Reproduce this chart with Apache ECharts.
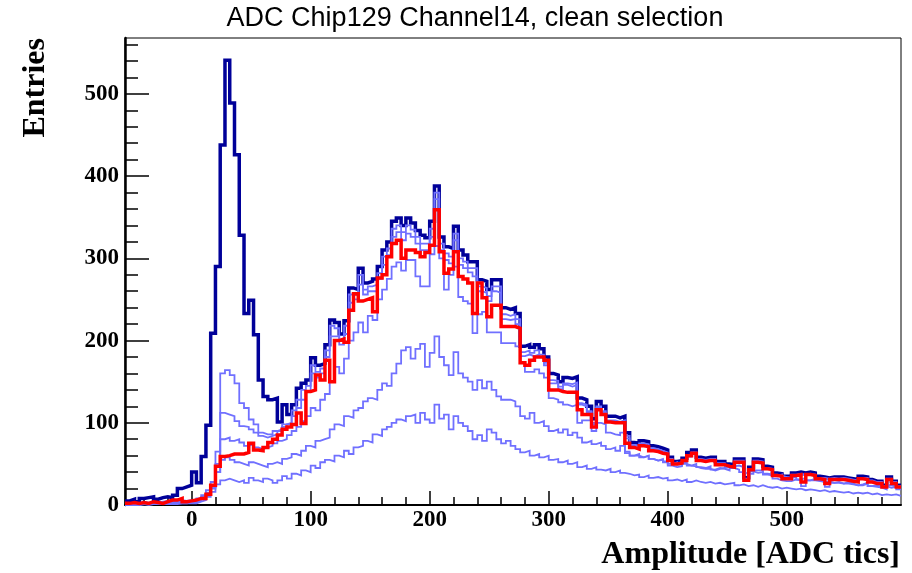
<!DOCTYPE html>
<html><head><meta charset="utf-8">
<script src="https://cdn.jsdelivr.net/npm/echarts@6/dist/echarts.min.js"></script>
<style>html,body{margin:0;padding:0;background:#fff}#c{width:912px;height:573px}</style>
</head><body><div id="c"></div>
<script>
// ---- data (bins of width 4 ADC tics starting at -56) ----
const binLow = -56;
const binWidth = 4;
const total = [
5,7,4,8,9,10,7,9,10,9,
12,20,22,24,40,27,59,97,209,290,
438,541,489,426,328,233,249,207,152,132,
128,130,101,122,110,122,142,148,152,179,
170,172,195,225,222,208,224,264,262,288,
270,272,275,290,310,320,345,349,340,349,
343,334,328,325,345,388,326,314,312,339,
310,304,296,296,274,272,262,274,274,240,
238,240,233,193,195,192,195,190,180,160,
158,150,155,154,156,130,128,120,105,126,
120,108,108,106,108,88,76,75,78,77,
72,71,69,67,58,53,54,57,64,67,
58,57,58,58,53,53,50,49,56,56,
33,46,56,55,47,46,39,38,35,35,
39,40,39,40,39,35,34,33,34,34,
34,33,32,31,35,34,31,29,29,24,
34,29,24];
const sel1 = [
2,3,2,4,3,4,3,4,5,4,
5,6,5,6,5,8,12,18,28,65,
160,164,158,148,124,118,104,98,88,86,
86,90,92,98,100,115,128,140,145,170,
162,166,188,218,215,200,218,256,255,280,
262,266,268,282,302,312,336,340,332,340,
335,326,318,318,336,380,318,306,302,330,
300,296,288,288,266,264,254,266,266,232,
230,232,226,186,188,185,188,183,173,152,
151,144,148,147,149,124,122,114,100,120,
114,103,103,101,103,84,73,72,75,74,
69,68,66,64,56,51,52,55,61,64,
56,55,56,56,51,51,48,47,54,54,
32,44,54,53,45,44,37,36,34,33,
37,38,37,38,37,33,33,32,33,32,
33,32,31,30,33,33,30,28,28,23,
32,28,23];
const sel2 = [
1,2,1,3,2,3,2,3,4,3,
4,5,4,5,4,7,10,15,22,50,
112,110,108,102,96,95,92,88,84,82,
84,86,90,95,98,108,118,128,138,160,
155,160,180,205,205,195,208,246,250,268,
256,260,260,275,292,304,326,332,322,330,
326,318,310,310,326,372,310,298,294,322,
292,288,283,278,260,258,248,260,258,226,
225,226,220,181,183,181,183,180,170,148,
148,141,146,144,146,122,120,113,98,118,
112,101,101,100,101,81,71,70,73,72,
67,66,64,62,54,50,50,53,59,62,
54,53,54,53,49,49,46,46,52,52,
31,42,52,51,44,43,36,35,33,32,
36,37,36,37,36,32,32,31,32,31,
32,31,30,29,32,32,29,27,27,22,
31,27,22];
const sel3 = [
1,1,1,2,1,2,2,2,3,2,
3,3,3,4,3,5,8,12,20,40,
80,82,78,80,76,72,74,70,68,70,
72,75,78,80,85,90,95,102,108,118,
115,128,135,150,168,160,178,200,210,222,
210,230,225,250,262,275,290,295,285,298,
298,278,266,266,305,315,300,262,280,290,
253,248,245,209,232,235,210,210,210,197,
197,197,193,173,162,162,165,160,155,130,
128,125,122,120,122,100,103,103,90,100,
98,88,86,85,88,65,60,60,58,60,
56,54,55,52,48,46,47,50,48,47,
45,44,44,42,44,45,46,47,48,46,
30,38,42,42,38,37,32,30,29,29,
31,30,23,30,30,29,28,22,27,27,
26,26,25,24,24,26,23,22,21,19,
24,22,19];
const sel4 = [
0,1,0,1,1,1,1,2,1,2,
2,2,2,3,3,5,8,14,22,40,
55,58,55,52,50,48,52,50,48,46,
50,52,50,56,58,62,60,66,72,70,
78,80,82,92,98,96,108,106,115,118,
126,130,128,140,148,145,160,172,188,192,
178,190,196,168,185,205,180,170,158,186,
160,155,150,140,152,142,150,140,132,128,
128,126,120,108,105,112,100,102,96,90,
92,88,92,85,88,82,76,78,74,76,
72,68,70,66,72,63,60,62,58,60,
56,54,56,53,50,52,49,52,48,50,
46,45,47,43,45,44,42,45,43,40,
38,41,39,40,37,36,35,37,34,33,
34,31,33,30,32,30,28,29,27,28,
26,28,26,24,25,27,23,24,22,23,
21,22,20];
const sel5 = [
0,0,0,1,0,1,1,1,1,1,
1,2,2,2,2,4,6,10,16,25,
30,32,30,28,30,27,33,30,28,32,
30,27,30,35,32,38,36,42,40,48,
45,52,55,53,60,58,66,62,70,72,
78,76,86,84,92,95,100,104,102,108,
110,100,112,104,100,122,105,110,92,108,
100,96,90,80,85,78,92,88,80,75,
78,72,68,64,66,60,62,58,60,55,
56,52,54,50,52,46,48,44,46,43,
42,44,40,42,39,38,36,37,34,36,
33,34,32,33,30,31,29,31,28,30,
28,27,28,26,27,25,26,27,24,25,
23,24,22,24,22,21,22,20,21,20,
19,20,18,19,18,17,18,16,17,16,
15,16,14,15,14,15,13,14,12,13,
12,13,11];
const clean = [
2,3,2,3,2,4,3,2,4,6,
6,8,4,5,6,8,8,13,24,47,
59,60,62,62,62,64,75,67,66,70,
76,80,85,92,95,98,112,99,138,140,
158,152,176,150,200,202,198,237,257,248,
250,252,235,276,280,302,318,322,300,310,
310,307,302,307,316,359,308,282,287,308,
278,275,270,233,270,252,229,243,243,217,
217,217,215,173,170,176,180,180,176,140,
140,138,137,137,137,116,110,110,95,116,
110,101,100,100,100,75,70,68,72,71,
66,65,63,62,54,50,51,54,60,63,
54,53,54,54,49,49,47,46,52,52,
30,43,52,51,44,43,36,35,32,32,
36,37,28,37,36,32,31,26,31,31,
31,30,29,28,32,31,28,26,26,22,
31,26,22];

const xMajorTicks = [0,100,200,300,400,500];
const xMinorTicks = [-40,-20,20,40,60,80,120,140,160,180,220,240,260,280,320,340,360,380,420,440,460,480,520,540,560,580];
const yMajorTicks = [0,100,200,300,400,500];
const yMinorTicks = [20,40,60,80,120,140,160,180,220,240,260,280,320,340,360,380,420,440,460,480,520,540,560];
const xMin = -56, xMax = 596, yMin = 0, yMax = 568;

const titleText = 'ADC Chip129 Channel14, clean selection';
const xTitle = 'Amplitude [ADC tics]';
const yTitle = 'Entries';

// ---- build ----
function steps(vals) {
  const d = vals.map((v, i) => [binLow + i * binWidth, v]);
  d.push([binLow + vals.length * binWidth, vals[vals.length - 1]]);
  return d;
}
const NAVY = '#000099', LIGHT = '#7070ff', RED = '#ff0000';
function hist(name, vals, color, width) {
  return {
    name, type: 'line', step: 'end', data: steps(vals), symbol: 'none',
    lineStyle: { color, width, cap: 'butt', join: 'miter' },
    itemStyle: { color }, animation: false, silent: true, clip: true
  };
}
const serif = 'Liberation Serif, Times New Roman, serif';
const chart = echarts.init(document.getElementById('c'), null, { renderer: 'canvas' });
chart.setOption({
  backgroundColor: '#fff',
  animation: false,
  grid: { left: 125, right: 11, top: 38, bottom: 68, show: true, borderColor: '#000', borderWidth: 1, containLabel: false },
  xAxis: [
    { type: 'value', min: xMin, max: xMax, position: 'bottom',
      axisLine: { show: true, onZero: false, lineStyle: { color: '#000', width: 2 } },
      axisTick: { show: true, inside: true, length: 14, customValues: xMajorTicks, lineStyle: { color: '#000', width: 1.5 } },
      axisLabel: { show: true, customValues: xMajorTicks, fontFamily: serif, fontWeight: 'bold', fontSize: 23, color: '#000', margin: 4 },
      splitLine: { show: false } },
    { type: 'value', min: xMin, max: xMax, position: 'bottom',
      axisLine: { show: false, onZero: false },
      axisTick: { show: true, inside: true, length: 8, customValues: xMinorTicks, lineStyle: { color: '#000', width: 1.5 } },
      axisLabel: { show: false }, splitLine: { show: false } }
  ],
  yAxis: [
    { type: 'value', min: yMin, max: yMax, position: 'left',
      axisLine: { show: true, onZero: false, lineStyle: { color: '#000', width: 2.5 } },
      axisTick: { show: true, inside: true, length: 24, customValues: yMajorTicks, lineStyle: { color: '#000', width: 1.5 } },
      axisLabel: { show: true, customValues: yMajorTicks, fontFamily: serif, fontWeight: 'bold', fontSize: 23, color: '#000', margin: 6 },
      splitLine: { show: false } },
    { type: 'value', min: yMin, max: yMax, position: 'left',
      axisLine: { show: false, onZero: false },
      axisTick: { show: true, inside: true, length: 13, customValues: yMinorTicks, lineStyle: { color: '#000', width: 1.5 } },
      axisLabel: { show: false }, splitLine: { show: false } }
  ],
  graphic: [
    { type: 'text', x: 475, y: 19, silent: true,
      style: { text: titleText, font: '27px "Liberation Sans", Arial, sans-serif', fill: '#000', textAlign: 'center', textVerticalAlign: 'middle' } },
    { type: 'text', x: 900, y: 555, silent: true,
      style: { text: xTitle, font: 'bold 32px "Liberation Serif", serif', fill: '#000', textAlign: 'right', textVerticalAlign: 'middle' } },
    { type: 'text', x: 36, y: 38, rotation: Math.PI / 2, silent: true,
      style: { text: yTitle, font: 'bold 32px "Liberation Serif", serif', fill: '#000', textAlign: 'right', textVerticalAlign: 'middle' } }
  ],
  series: [
    hist('total', total, NAVY, 3.5),
    hist('sel1', sel1, LIGHT, 1.8),
    hist('sel2', sel2, LIGHT, 1.8),
    hist('sel3', sel3, LIGHT, 1.8),
    hist('sel4', sel4, LIGHT, 1.8),
    hist('sel5', sel5, LIGHT, 1.8),
    hist('clean', clean, RED, 3.5)
  ]
});
</script></body></html>
